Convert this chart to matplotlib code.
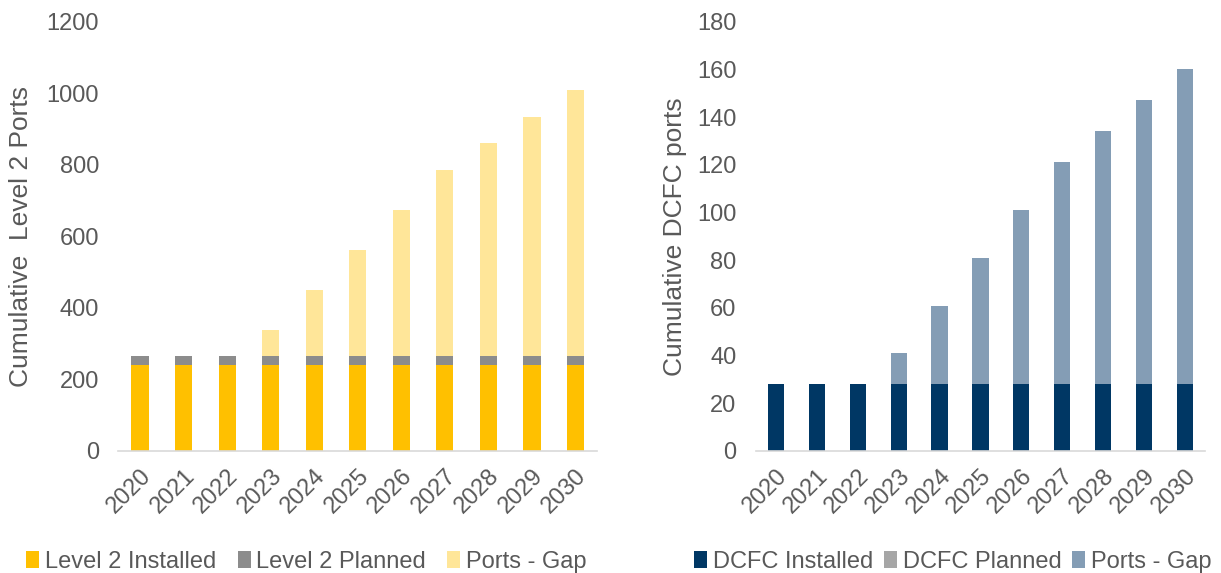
import matplotlib.pyplot as plt
import numpy as np

plt.rcParams['font.family'] = ['Liberation Sans', 'DejaVu Sans']

years = ['2020', '2021', '2022', '2023', '2024', '2025', '2026', '2027', '2028', '2029', '2030']

l2_installed = [240] * 11
l2_planned = [25] * 11
l2_total = [265, 265, 265, 338, 450, 562, 674, 786, 861, 934, 1010]
l2_gap = [t - i - p for t, i, p in zip(l2_total, l2_installed, l2_planned)]

dc_installed = [28] * 11
dc_planned = [0] * 11
dc_total = [28, 28, 28, 41, 61, 81, 101, 121, 134, 147, 160]
dc_gap = [t - i - p for t, i, p in zip(dc_total, dc_installed, dc_planned)]

txt = '#595959'
fig = plt.figure(figsize=(12.21, 5.73), dpi=100)
ax1 = fig.add_axes([0.097, 0.213, 0.392, 0.749])
ax2 = fig.add_axes([0.619, 0.213, 0.368, 0.749])

x = np.arange(len(years))
w = 0.4


def style(ax, ymax, step, ylabel, lx):
    ax.set_xlim(-0.5, len(years) - 0.5)
    ax.set_ylim(0, ymax)
    ax.set_yticks(np.arange(0, ymax + 1, step))
    ax.set_xticks(x)
    ax.set_xticklabels(years, rotation=45, ha='right', rotation_mode='anchor')
    for s in ['top', 'right', 'left']:
        ax.spines[s].set_visible(False)
    ax.spines['bottom'].set_color('#D9D9D9')
    ax.spines['bottom'].set_linewidth(1.2)
    ax.tick_params(axis='both', length=0, labelsize=17, colors=txt)
    ax.tick_params(axis='y', pad=14)
    ax.tick_params(axis='x', pad=10)
    ax.set_ylabel(ylabel, fontsize=19, color=txt)
    ax.yaxis.set_label_coords(lx, 0.587, transform=fig.transFigure)


ax1.bar(x, l2_installed, w, color='#FFC000', label='Level 2 Installed')
ax1.bar(x, l2_planned, w, bottom=l2_installed, color='#8C8C8C', label='Level 2 Planned')
ax1.bar(x, l2_gap, w, bottom=np.add(l2_installed, l2_planned), color='#FFE699', label='Ports - Gap')
style(ax1, 1200, 200, 'Cumulative  Level 2 Ports', 0.027)

ax2.bar(x, dc_installed, w, color='#003764', label='DCFC Installed')
ax2.bar(x, dc_planned, w, bottom=dc_installed, color='#A6A6A6', label='DCFC Planned')
ax2.bar(x, dc_gap, w, bottom=np.add(dc_installed, dc_planned), color='#849DB5', label='Ports - Gap')
style(ax2, 180, 20, 'Cumulative DCFC ports', 0.5627)

for ax, x0, cs in [(ax1, 0.004, 0.9), (ax2, 0.551, 0.45)]:
    ax.legend(loc='lower left', bbox_to_anchor=(x0, -0.037), bbox_transform=fig.transFigure,
              ncol=3, frameon=False, fontsize=17, labelcolor=txt, handlelength=0.55,
              handleheight=0.75, handletextpad=0.25, columnspacing=cs)

fig.savefig('out.png', dpi=100)
